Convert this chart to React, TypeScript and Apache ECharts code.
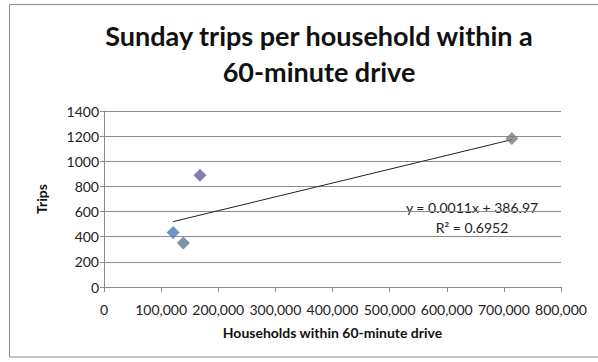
import React, { useEffect, useRef } from "react";
import * as echarts from "echarts";

const households = [121000, 139000, 168000, 714000];
const trips = [434, 350, 888, 1181];
const pointColors = ["#4a7bb8", "#5a7592", "#6a5aa6", "#7b7b7b"];
const trendSlope = 0.0011;
const trendIntercept = 386.97;
const equationText = "y = 0.0011x + 386.97";
const r2Text = "R² = 0.6952";

export default function App() {
  const ref = useRef<HTMLDivElement>(null);
  useEffect(() => {
    if (!ref.current) return;
    const chart = echarts.init(ref.current, undefined, { renderer: "svg" });
    const xMin = Math.min(...households);
    const xMax = Math.max(...households);
    const trend = [
      [xMin, trendSlope * xMin + trendIntercept],
      [xMax, trendSlope * xMax + trendIntercept],
    ];
    const font = "Lato, 'Open Sans', sans-serif";
    chart.setOption({
      animation: false,
      backgroundColor: "#ffffff",
      title: {
        text: "Sunday trips per household within a\n60-minute drive",
        left: 314,
        textAlign: "center",
        top: 12,
        textStyle: {
          fontFamily: font,
          fontWeight: "bold",
          fontSize: 27,
          lineHeight: 36,
          color: "#111",
        },
      },
      graphic: [
        {
          type: "rect",
          shape: { x: 9.5, y: 4.5, width: 600, height: 352.5 },
          style: { fill: "none", stroke: "#8c8c8c", lineWidth: 1 },
          z: -1,
        },
        {
          type: "text",
          x: 472,
          y: 207,
          style: {
            text: equationText,
            fontFamily: font,
            fontSize: 14,
            fill: "#222",
            align: "center",
            verticalAlign: "middle",
          },
        },
        {
          type: "text",
          x: 472,
          y: 227,
          style: {
            text: r2Text,
            fontFamily: font,
            fontSize: 14,
            fill: "#222",
            align: "center",
            verticalAlign: "middle",
          },
        },
      ],
      grid: { left: 104, right: 37, top: 111, bottom: 75 },
      xAxis: {
        type: "value",
        min: 0,
        max: 800000,
        interval: 100000,
        name: "Households within 60-minute drive",
        nameLocation: "middle",
        nameGap: 38,
        nameTextStyle: { fontFamily: font, fontWeight: "bold", fontSize: 14, color: "#111" },
        axisLine: { show: true, lineStyle: { color: "#8c8c8c" } },
        axisTick: { show: true, length: 5, lineStyle: { color: "#8c8c8c" } },
        axisLabel: {
          fontFamily: font,
          fontSize: 14,
          color: "#222",
          margin: 15,
          formatter: (v: number) => v.toLocaleString("en-US"),
        },
        splitLine: { show: false },
      },
      yAxis: {
        type: "value",
        min: 0,
        max: 1400,
        interval: 200,
        name: "Trips",
        nameLocation: "middle",
        nameGap: 56,
        nameRotate: 90,
        nameTextStyle: { fontFamily: font, fontWeight: "bold", fontSize: 14, color: "#111" },
        axisLine: { show: true, lineStyle: { color: "#8c8c8c" } },
        axisTick: { show: true, length: 4, lineStyle: { color: "#8c8c8c" } },
        axisLabel: {
          fontFamily: font,
          fontSize: 14,
          color: "#222",
          margin: 5,
          formatter: (v: number) => String(v),
        },
        splitLine: { show: true, lineStyle: { color: "#8c8c8c", width: 1 } },
      },
      series: [
        {
          type: "line",
          data: trend,
          symbol: "none",
          lineStyle: { color: "#222", width: 1 },
          z: 3,
        },
        {
          type: "scatter",
          symbol: "diamond",
          symbolSize: 13,
          data: households.map((x, i) => ({
            value: [x, trips[i]],
            itemStyle: { color: pointColors[i] },
          })),
          z: 4,
        },
      ],
    });
    return () => chart.dispose();
  }, []);
  return (
    <div
      ref={ref}
      style={{ position: "fixed", left: 0, top: 0, width: 598, height: 362 }}
    />
  );
}
